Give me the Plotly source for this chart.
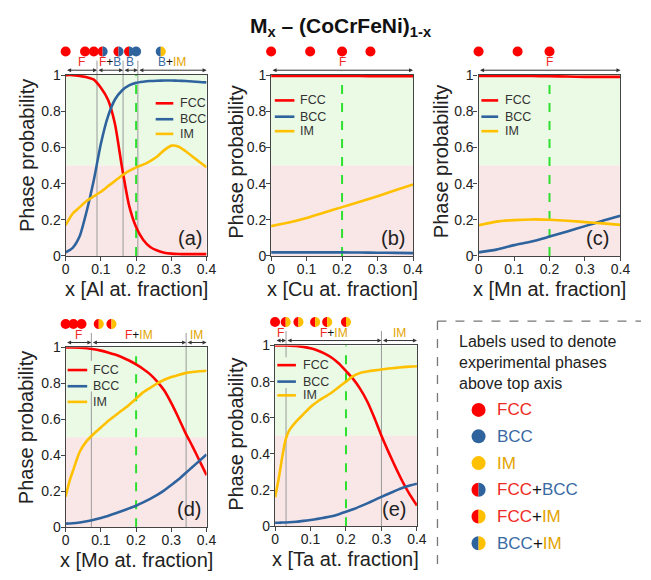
import plotly.graph_objects as go

# ---------------- data ----------------
x_al = [0, 0.02, 0.04, 0.06, 0.08, 0.10, 0.12, 0.14, 0.16, 0.18, 0.20, 0.22, 0.24, 0.26, 0.28, 0.30, 0.32, 0.34, 0.36, 0.38, 0.40]
fcc_al = [1.0, 1.0, 0.995, 0.988, 0.975, 0.93, 0.865, 0.73, 0.49, 0.28, 0.16, 0.09, 0.05, 0.03, 0.018, 0.013, 0.011, 0.01, 0.01, 0.01, 0.01]
bcc_al = [0.02, 0.045, 0.11, 0.25, 0.42, 0.62, 0.77, 0.865, 0.915, 0.943, 0.957, 0.963, 0.967, 0.969, 0.97, 0.97, 0.969, 0.967, 0.965, 0.962, 0.96]
im_al = [0.17, 0.235, 0.27, 0.305, 0.33, 0.355, 0.385, 0.415, 0.445, 0.47, 0.49, 0.505, 0.525, 0.55, 0.585, 0.61, 0.605, 0.58, 0.55, 0.52, 0.49]

x_cu = [0, 0.05, 0.10, 0.15, 0.20, 0.25, 0.30, 0.35, 0.40]
fcc_cu = [0.995, 0.995, 0.995, 0.995, 0.995, 0.995, 0.994, 0.994, 0.994]
bcc_cu = [0.02, 0.02, 0.02, 0.02, 0.02, 0.019, 0.018, 0.017, 0.016]
im_cu = [0.165, 0.185, 0.21, 0.24, 0.27, 0.30, 0.33, 0.363, 0.395]

x_mn = [0, 0.05, 0.10, 0.15, 0.20, 0.25, 0.30, 0.35, 0.40]
fcc_mn = [0.995, 0.995, 0.995, 0.995, 0.994, 0.992, 0.99, 0.99, 0.99]
bcc_mn = [0.02, 0.035, 0.06, 0.08, 0.107, 0.135, 0.165, 0.195, 0.222]
im_mn = [0.17, 0.19, 0.198, 0.202, 0.2, 0.195, 0.187, 0.18, 0.172]

x_mo = [0, 0.01, 0.02, 0.04, 0.06, 0.08, 0.10, 0.12, 0.14, 0.16, 0.18, 0.20, 0.22, 0.24, 0.26, 0.28, 0.30, 0.32, 0.34, 0.36, 0.38, 0.40]
fcc_mo = [1.0, 1.0, 1.0, 0.998, 0.995, 0.99, 0.982, 0.972, 0.96, 0.945, 0.927, 0.905, 0.88, 0.85, 0.81, 0.76, 0.69, 0.61, 0.525, 0.45, 0.37, 0.29]
bcc_mo = [0.02, 0.021, 0.022, 0.027, 0.034, 0.042, 0.052, 0.063, 0.076, 0.09, 0.105, 0.12, 0.138, 0.158, 0.18, 0.205, 0.235, 0.265, 0.3, 0.335, 0.37, 0.405]
im_mo = [0.17, 0.25, 0.31, 0.42, 0.48, 0.52, 0.555, 0.59, 0.62, 0.65, 0.68, 0.715, 0.75, 0.775, 0.80, 0.82, 0.835, 0.847, 0.857, 0.863, 0.867, 0.87]

x_ta = [0, 0.01, 0.02, 0.03, 0.04, 0.06, 0.08, 0.10, 0.12, 0.14, 0.16, 0.18, 0.20, 0.22, 0.24, 0.26, 0.28, 0.30, 0.32, 0.34, 0.36, 0.38, 0.40]
fcc_ta = [1.0, 1.0, 1.0, 1.0, 0.999, 0.997, 0.992, 0.984, 0.972, 0.955, 0.932, 0.90, 0.858, 0.815, 0.76, 0.69, 0.60, 0.50, 0.41, 0.325, 0.245, 0.175, 0.115]
bcc_ta = [0.02, 0.02, 0.021, 0.021, 0.022, 0.025, 0.03, 0.035, 0.041, 0.048, 0.056, 0.067, 0.08, 0.094, 0.11, 0.127, 0.145, 0.163, 0.18, 0.197, 0.213, 0.225, 0.235]
im_ta = [0.16, 0.26, 0.38, 0.48, 0.53, 0.58, 0.62, 0.66, 0.69, 0.715, 0.74, 0.77, 0.80, 0.83, 0.848, 0.856, 0.862, 0.867, 0.872, 0.876, 0.88, 0.883, 0.885]

# experimental phases above top axis
dots_al_x = [0, 0.055, 0.08, 0.105, 0.15, 0.18, 0.20, 0.27]
dots_al_ph = ["FCC", "FCC", "FCC", "FCC+BCC", "FCC+BCC", "FCC+BCC", "BCC", "BCC+IM"]
dots_cu_x = [0, 0.11, 0.20, 0.28]
dots_cu_ph = ["FCC", "FCC", "FCC", "FCC"]
dots_mn_x = [0, 0.11, 0.20]
dots_mn_ph = ["FCC", "FCC", "FCC"]
dots_mo_x = [0, 0.022, 0.045, 0.094, 0.13]
dots_mo_ph = ["FCC", "FCC", "FCC", "FCC+IM", "FCC+IM"]
dots_ta_x = [0, 0.03, 0.066, 0.113, 0.147, 0.20]
dots_ta_ph = ["FCC", "FCC+IM", "FCC+IM", "FCC+IM", "FCC+IM", "FCC+IM"]

# predicted-region boundaries and labels
bounds_al = [0, 0.089, 0.163, 0.205, 0.4]
labels_al = ["F", "F+B", "B", "B+IM"]
bounds_cu = [0, 0.4]
labels_cu = ["F"]
bounds_mn = [0, 0.4]
labels_mn = ["F"]
bounds_mo = [0, 0.073, 0.342, 0.4]
labels_mo = ["F", "F+IM", "IM"]
bounds_ta = [0, 0.031, 0.30, 0.4]
labels_ta = ["F", "F+IM", "IM"]

x_ticks = [0, 0.1, 0.2, 0.3, 0.4]
y_ticks = [0, 0.2, 0.4, 0.6, 0.8, 1.0]
legend_phases = ["FCC", "BCC", "IM", "FCC+BCC", "FCC+IM", "BCC+IM"]

# ---------------- styling ----------------
W, H = 651, 580
RED = "#ff0000"
BLUE = "#2f639d"
YEL = "#ffc000"
TRED = "#ee2a24"
TBLUE = "#3a6aa3"
TGOLD = "#e3a400"
GREEN_BG = "#eafae5"
PINK_BG = "#f9e7e7"
FONT = "Arial, Liberation Sans, sans-serif"
DOT_Y = 1.13

DOTC = {"FCC": (RED, RED), "BCC": (BLUE, BLUE), "IM": (YEL, YEL),
        "FCC+BCC": (RED, BLUE), "FCC+IM": (RED, YEL), "BCC+IM": (BLUE, YEL)}
TOKC = {"F": TRED, "B": TBLUE, "IM": TGOLD, "FCC": TRED, "BCC": TBLUE}


def fmt(label):
    parts = label.split("+")
    return '<span style="color:#111">+</span>'.join(
        f'<span style="color:{TOKC[p]}">{p}</span>' for p in parts)


panels = [
    dict(n="", s="6", name="Al", x=x_al, f=fcc_al, b=bcc_al, i=im_al, dx=dots_al_x, dp=dots_al_ph,
         bd=bounds_al, lb=labels_al, px=(63, 207, 69, 255), tag="(a)",
         leg=(0.639, 0.764, 0.80, [0.844, 0.756, 0.675]), legbg=None,
         tagpos=(0.979, 0.098), ytpos=(-0.278, 0.555)),
    dict(n="2", s="7", name="Cu", x=x_cu, f=fcc_cu, b=bcc_cu, i=im_cu, dx=dots_cu_x, dp=dots_cu_ph,
         bd=bounds_cu, lb=labels_cu, px=(273, 418, 69, 255), tag="(b)",
         leg=(0.026, 0.164, 0.19, [0.86, 0.77, 0.69]), legbg=None,
         tagpos=(0.957, 0.098), ytpos=(-0.25, 0.519)),
    dict(n="3", s="8", name="Mn", x=x_mn, f=fcc_mn, b=bcc_mn, i=im_mn, dx=dots_mn_x, dp=dots_mn_ph,
         bd=bounds_mn, lb=labels_mn, px=(485, 630, 69, 255), tag="(c)",
         leg=(0.02, 0.138, 0.172, [0.86, 0.77, 0.69]), legbg=None,
         tagpos=(0.93, 0.098), ytpos=(-0.264, 0.519)),
    dict(n="4", s="9", name="Mo", x=x_mo, f=fcc_mo, b=bcc_mo, i=im_mo, dx=dots_mo_x, dp=dots_mo_ph,
         bd=bounds_mo, lb=labels_mo, px=(63, 207, 349, 534), tag="(d)",
         leg=(0.014, 0.153, 0.183, [0.874, 0.784, 0.697]), legbg=(0.755, 0.925),
         tagpos=(0.974, 0.103), ytpos=(-0.276, 0.555)),
    dict(n="5", s="10", name="Ta", x=x_ta, f=fcc_ta, b=bcc_ta, i=im_ta, dx=dots_ta_x, dp=dots_ta_ph,
         bd=bounds_ta, lb=labels_ta, px=(277, 422, 347, 533), tag="(e)",
         leg=(0.016, 0.147, 0.182, [0.891, 0.80, 0.724]), legbg=(0.765, 0.935),
         tagpos=(0.94, 0.097), ytpos=(-0.272, 0.508)),
]

fig = go.Figure()
shapes = []
annotations = []
layout = dict(width=W, height=H, margin=dict(l=0, r=0, t=0, b=0),
              paper_bgcolor="white", plot_bgcolor="rgba(0,0,0,0)", showlegend=False,
              font=dict(family=FONT, color="#222", size=14))

K = 0.5523


def dot_shapes(xref, yref, xa, ya, r, phase):
    cl, cr = DOTC[phase]
    base = dict(xref=xref, yref=yref, xsizemode="pixel", ysizemode="pixel",
                xanchor=xa, yanchor=ya, line=dict(width=0), layer="above")
    if cl == cr:
        return [dict(type="circle", x0=-r, x1=r, y0=-r, y1=r, fillcolor=cl, **base)]
    k = K * r
    left = f"M 0,{r} C {-k},{r} {-r},{k} {-r},0 C {-r},{-k} {-k},{-r} 0,{-r} Z"
    right = f"M 0,{r} C {k},{r} {r},{k} {r},0 C {r},{-k} {k},{-r} 0,{-r} Z"
    return [dict(type="path", path=left, fillcolor=cl, **base),
            dict(type="path", path=right, fillcolor=cr, **base)]


axis_common = dict(showgrid=False, zeroline=False, showline=True, mirror=True,
                   linecolor="#444", linewidth=1.2, ticks="outside", ticklen=4,
                   tickcolor="#444", tickfont=dict(size=14, color="#222"))

for p in panels:
    n, s = p["n"], p["s"]
    xr, yr, ys_ = "x" + n, "y" + n, "y" + s
    xd, yd = xr + " domain", yr + " domain"
    x0, x1, y0, y1 = p["px"]
    layout["xaxis" + n] = dict(domain=[x0 / W, x1 / W], range=[0, 0.4], anchor=yr,
                               tickvals=x_ticks, ticklabelstandoff=-4, **axis_common)
    layout["yaxis" + n] = dict(domain=[1 - y1 / H, 1 - y0 / H], range=[0, 1], anchor=xr,
                               tickvals=y_ticks, ticklabelstandoff=-3, **axis_common)
    # thin strip above the panel for the experimental dots (shares the x axis)
    dot_px = y1 - DOT_Y * (y1 - y0)
    layout["yaxis" + s] = dict(domain=[1 - (dot_px + 7) / H, 1 - (dot_px - 7) / H],
                               range=[0, 1], anchor=xr, visible=False, fixedrange=True)
    # background bands
    shapes.append(dict(type="rect", xref=xd, yref=yr, x0=0, x1=1, y0=0.5, y1=1,
                       fillcolor=GREEN_BG, line=dict(width=0), layer="below"))
    shapes.append(dict(type="rect", xref=xd, yref=yr, x0=0, x1=1, y0=0, y1=0.5,
                       fillcolor=PINK_BG, line=dict(width=0), layer="below"))
    # region boundaries
    for bx in p["bd"][1:-1]:
        shapes.append(dict(type="line", xref=xr, yref=yd, x0=bx, x1=bx, y0=0, y1=1.08,
                           line=dict(color="#9a9a9a", width=1), layer="below"))
    # green dashed x = 0.2
    shapes.append(dict(type="line", xref=xr, yref=yd, x0=0.2, x1=0.2, y0=0, y1=1,
                       line=dict(color="#2ee02e", width=2, dash="dash"), layer="below"))
    # legend background (hides the boundary lines behind the legend)
    if p["legbg"]:
        shapes.append(dict(type="rect", xref=xd, yref=yd, x0=0.005, x1=0.42,
                           y0=p["legbg"][0], y1=p["legbg"][1],
                           fillcolor=GREEN_BG, line=dict(width=0), layer="below"))
    # curves
    for yv, col in ((p["f"], RED), (p["b"], BLUE), (p["i"], YEL)):
        fig.add_trace(go.Scatter(x=p["x"], y=yv, mode="lines", xaxis=xr, yaxis=yr,
                                 line=dict(color=col, width=2.6, shape="spline", smoothing=0.6),
                                 cliponaxis=False, hoverinfo="skip"))
    # in-plot legend
    lx0, lx1, tx, lys = p["leg"]
    for nm, col, ly in zip(["FCC", "BCC", "IM"], [RED, BLUE, YEL], lys):
        shapes.append(dict(type="line", xref=xd, yref=yd, x0=lx0, x1=lx1, y0=ly, y1=ly,
                           line=dict(color=col, width=2.6), layer="above"))
        annotations.append(dict(xref=xd, yref=yd, x=tx, y=ly, text=nm, showarrow=False,
                                xanchor="left", yanchor="middle",
                                font=dict(size=12.5, color="#333")))
    # panel tag
    annotations.append(dict(xref=xd, yref=yd, x=p["tagpos"][0], y=p["tagpos"][1],
                            text=p["tag"], showarrow=False, xanchor="right", yanchor="middle",
                            font=dict(size=20, color="#222")))
    # axis titles
    annotations.append(dict(xref=xd, yref=yd, x=0.5, y=-0.183,
                            text=f"x [{p['name']} at. fraction]", showarrow=False,
                            xanchor="center", yanchor="middle", font=dict(size=20, color="#222")))
    annotations.append(dict(xref=xd, yref=yd, x=p["ytpos"][0], y=p["ytpos"][1],
                            text="Phase probability", showarrow=False, textangle=-90,
                            xanchor="center", yanchor="middle", font=dict(size=20, color="#222")))
    # region arrows + labels above top axis
    bd = p["bd"]
    for st, en, lab in zip(bd[:-1], bd[1:], p["lb"]):
        annotations.append(dict(xref=xr, yref=yd, axref=xr, ayref=yd, x=en, y=1.027,
                                ax=st, ay=1.027, text="", showarrow=True,
                                arrowside="end+start", arrowhead=2, arrowsize=0.8,
                                arrowwidth=1, arrowcolor="#333"))
        annotations.append(dict(xref=xr, yref=yd, x=(st + en) / 2, y=1.07, text=fmt(lab),
                                showarrow=False, xanchor="center", yanchor="middle",
                                font=dict(size=12)))
    # experimental dots: single-phase as markers, two-phase as split-circle shapes
    sx = [dx for dx, ph in zip(p["dx"], p["dp"]) if "+" not in ph]
    sc = [DOTC[ph][0] for ph in p["dp"] if "+" not in ph]
    fig.add_trace(go.Scatter(x=sx, y=[0.5] * len(sx), mode="markers", xaxis=xr, yaxis=ys_,
                             marker=dict(size=10, color=sc, line=dict(width=0)),
                             cliponaxis=False, hoverinfo="skip"))
    for dxv, ph in zip(p["dx"], p["dp"]):
        if "+" in ph:
            shapes.extend(dot_shapes(xr, yd, dxv, DOT_Y, 5, ph))

# title
annotations.append(dict(xref="paper", yref="paper", x=344 / W, y=1 - 20 / H,
                        text="<b>M<sub>x</sub> – (CoCrFeNi)<sub>1-x</sub></b>", showarrow=False,
                        xanchor="center", yanchor="middle", font=dict(size=21, color="#111")))

# right-hand label box
shapes.append(dict(type="line", xref="paper", yref="paper", x0=443 / W, x1=1, y0=1 - 322 / H,
                   y1=1 - 322 / H, line=dict(color="#777", width=1.3, dash="dash")))
shapes.append(dict(type="line", xref="paper", yref="paper", x0=443 / W, x1=443 / W, y0=1 - 322 / H,
                   y1=0, line=dict(color="#777", width=1.3, dash="dash")))
annotations.append(dict(xref="paper", yref="paper", x=463 / W, y=1 - 332 / H,
                        text="Labels used to denote<br>experimental phases<br>above top axis",
                        showarrow=False, xanchor="left", yanchor="top", align="left",
                        font=dict(size=16, color="#222")))
leg_y = [413.3, 440.5, 468, 495.5, 523, 550.5]
for ph, ypx in zip(legend_phases, leg_y):
    shapes.extend(dot_shapes("paper", "paper", 485 / W, 1 - ypx / H, 7, ph))
    annotations.append(dict(xref="paper", yref="paper", x=502 / W, y=1 - ypx / H,
                            text=fmt(ph), showarrow=False, xanchor="left", yanchor="middle",
                            font=dict(size=17)))

layout["shapes"] = shapes
layout["annotations"] = annotations
fig.update_layout(**layout)
fig.write_html("out.html")
